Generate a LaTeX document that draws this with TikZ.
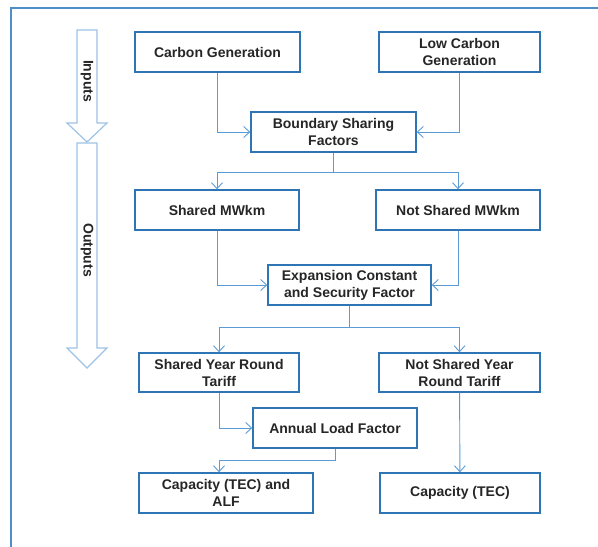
\documentclass[tikz,border=0pt]{standalone}
\usepackage{fontspec}
\setmainfont{Liberation Sans}
\usetikzlibrary{arrows.meta,positioning,calc}
\definecolor{boxblue}{HTML}{2E75B6}
\definecolor{lineblue}{HTML}{5B9BD5}
\definecolor{arrowblue}{HTML}{9DC3E6}
\definecolor{frameblue}{HTML}{4F8FC9}
\definecolor{textgray}{HTML}{262626}

\begin{document}
\begin{tikzpicture}[
        x=1pt, y=-1pt,
        font=\fontsize{14}{17}\selectfont\bfseries,
        block/.style={rectangle, draw=boxblue, line width=1.4pt, fill=white, text=textgray, align=center, minimum height=40pt, inner sep=2pt},
        conn/.style={draw=lineblue, line width=0.9pt, -{Straight Barb[length=6pt,width=11pt]}},
        link/.style={draw=lineblue, line width=0.9pt},
        bigarrow/.style={draw=arrowblue, line width=1.2pt, fill=white, line join=miter}
        ]
        \useasboundingbox (0,0) rectangle (598,547);
        \draw[frameblue, line width=1.2pt] (11,547) -- (11,8) -- (598,8);

        \draw[bigarrow] (77,30) -- (97,30) -- (97,123) -- (107,123) -- (87,142) -- (67,123) -- (77,123) -- cycle;
        \draw[bigarrow] (77,143) -- (97,143) -- (97,348) -- (107,348) -- (87,368) -- (67,348) -- (77,348) -- cycle;
        \node[rotate=-90, text=textgray] (inputs) at (87,81) {Inputs};
        \node[rotate=-90, text=textgray] (outputs) at (87,250) {Outputs};

        \node[block, minimum width=165pt] (carbon) at (217.5,52) {Carbon Generation};
        \node[block, minimum width=161pt] (lowcarbon) at (459.5,52) {Low Carbon\\Generation};
        \node[block, minimum width=165pt] (boundary) at (333.5,132) {Boundary Sharing\\Factors};
        \node[block, minimum width=164pt] (shared) at (217,210) {Shared MWkm};
        \node[block, minimum width=164pt] (notshared) at (458,210) {Not Shared MWkm};
        \node[block, minimum width=163pt] (expansion) at (349.5,285) {Expansion Constant\\and Security Factor};
        \node[block, minimum width=160pt, minimum height=39pt] (sharedtariff) at (219,372.5) {Shared Year Round\\Tariff};
        \node[block, minimum width=161pt, minimum height=39pt] (notsharedtariff) at (459.5,372.5) {Not Shared Year\\Round Tariff};
        \node[block, minimum width=164pt] (loadfactor) at (335,428) {Annual Load Factor};
        \node[block, minimum width=174pt] (capalf) at (226,493) {Capacity (TEC) and\\ALF};
        \node[block, minimum width=160pt] (capacity) at (460,493) {Capacity (TEC)};

        \draw[conn] (carbon) |- (boundary);
        \draw[conn] (lowcarbon) |- (boundary);
        \draw[link] (boundary.south) -- ++(0,20) coordinate (split1);
        \draw[conn] (split1) -| (shared);
        \draw[conn] (split1) -| (notshared);
        \draw[conn] (shared) |- (expansion);
        \draw[conn] (notshared) |- (expansion);
        \draw[link] (expansion.south) -- ++(0,22) coordinate (split2);
        \draw[conn] (split2) -| (sharedtariff);
        \draw[conn] (split2) -| (notsharedtariff);
        \draw[conn] (sharedtariff) |- (loadfactor);
        \draw[conn] (loadfactor.south) -- ++(0,12) -| (capalf.north -| sharedtariff.south);
        \draw[conn] (notsharedtariff) -- (capacity);
\end{tikzpicture}
\end{document}
